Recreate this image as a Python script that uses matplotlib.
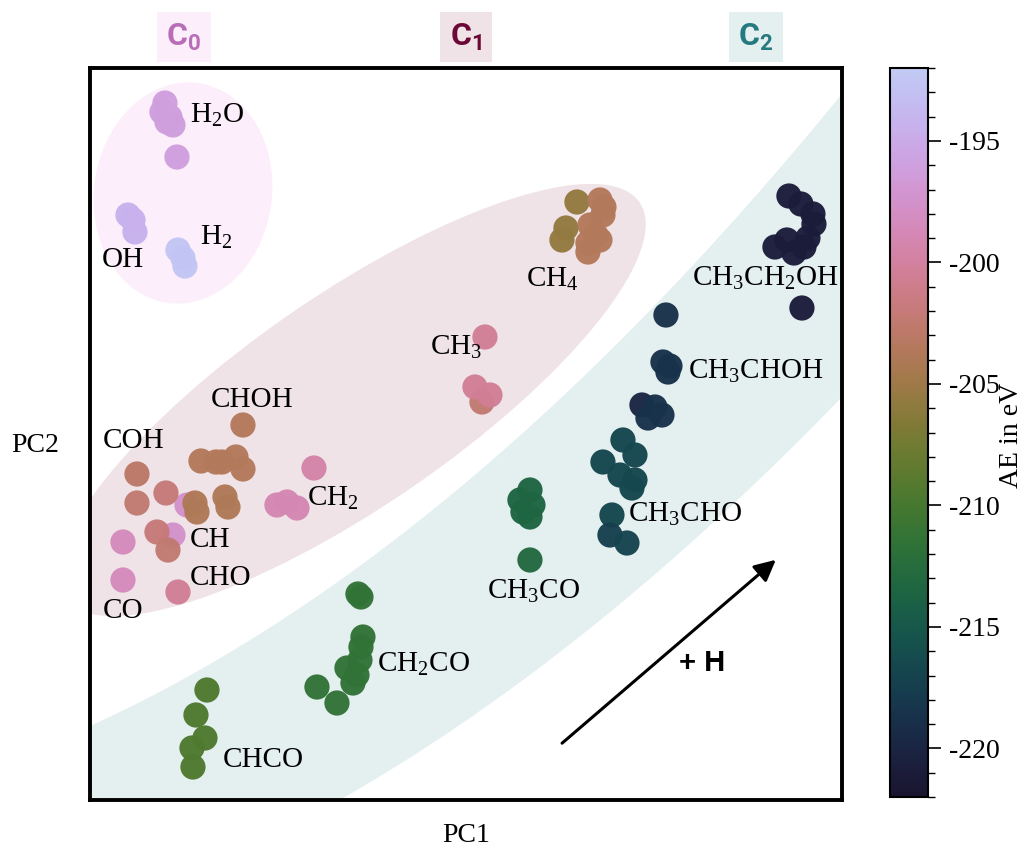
import numpy as np
import matplotlib.pyplot as plt
from matplotlib.colors import ListedColormap, Normalize
from matplotlib.patches import Ellipse
from matplotlib.ticker import MultipleLocator

plt.rcParams['font.family'] = ['Liberation Serif', 'DejaVu Serif']
plt.rcParams['mathtext.fontset'] = 'custom'
plt.rcParams['mathtext.rm'] = 'Liberation Serif'
plt.rcParams['mathtext.it'] = 'Liberation Serif:italic'
plt.rcParams['mathtext.sf'] = 'Roboto:bold'
plt.rcParams['axes.unicode_minus'] = False

# PCA projection (PC1, PC2) and adsorption energy (eV) of every structure
pc1 = [75, 72, 80, 83, 77, 87,                 # H2O
       38, 43, 45,                             # OH
       88, 93, 95,                             # H2
       97, 83,                                 # CH (behind)
       153, 111, 126, 132, 146, 153,           # CHOH
       47, 47, 76,                             # COH
       105, 107, 135, 138,
       187, 197, 207, 224,                     # CH2
       33, 67, 78,
       33, 88,                                 # CO, CHO
       487, 476, 472, 510, 514, 513, 500, 506, 510, 498, 498,   # CH4
       395, 392, 385, 400,                     # CH3
       699, 711, 723, 724, 718, 697, 685, 704, 714, 712,        # CH3CH2OH
       576, 573, 580, 578,                     # CH3CHOH
       552, 565, 572, 558,
       533, 545, 513, 530, 545, 542,           # CH3CHO
       522, 520, 537,
       440, 430, 443, 440, 433, 440,           # CH3CO
       268, 271, 273, 271, 270, 257, 267, 263, 227, 247,        # CH2CO
       117, 106, 115, 102, 103]                # CHCO
pc2 = [697, 688, 683, 675, 678, 643,
       585, 580, 568,
       550, 542, 534,
       295, 265,
       375, 339, 338, 338, 343, 331,
       326, 297, 307,
       297, 288, 303, 293,
       295, 298, 292, 332,
       258, 268, 250,
       220, 208,
       598, 572, 560, 600, 593, 585, 575, 565, 560, 557, 548,
       463, 398, 413, 405,
       604, 596, 586, 576, 562, 560, 553, 547, 553, 492,
       485, 438, 434, 428,
       395, 393, 385, 382,
       360, 345, 338, 325, 320, 312,
       285, 265, 257,
       310, 300, 295, 283, 288, 240,
       206, 203, 163, 153, 140, 132, 125, 117, 113, 97,
       110, 85, 62, 52, 33]
energy = [-196, -196, -196, -196, -196, -196,
          -194.5, -194.5, -194.5,
          -192.5, -192.5, -192.5,
          -197.5, -197.5,
          -203.5, -203.5, -203.5, -203.5, -203.5, -203.5,
          -203, -202.5, -202,
          -204, -204, -204, -204,
          -199, -199, -199, -199.5,
          -198.5, -202, -202.5,
          -198.5, -200.5,
          -205.5, -205.5, -205.5, -203.5, -203.5, -203.5, -203.5, -203.5, -203.5, -203.5, -203.5,
          -200.5, -202.5, -200.5, -200.5,
          -221, -221, -221, -221, -221, -221, -221, -221, -221, -221,
          -218.5, -218.5, -218.5, -218.5,
          -220, -218.5, -218.5, -218.5,
          -216.5, -216.5, -216.5, -216.5, -216.5, -216.5,
          -216.5, -217.5, -217,
          -213.5, -213.5, -213.5, -213.5, -213.5, -213,
          -211.5, -211.5, -211.5, -211.5, -211.5, -211.5, -211.5, -211.5, -211.5, -211.5,
          -209.5, -209.5, -209.5, -209.5, -209.5]

label_text = [r'H$_2$O', 'OH', r'H$_2$', 'CHOH', 'COH', 'CH', 'CHO', 'CO', r'CH$_2$',
              r'CH$_3$', r'CH$_4$', r'CH$_3$CH$_2$OH', r'CH$_3$CHOH', r'CH$_3$CHO',
              r'CH$_3$CO', r'CH$_2$CO', 'CHCO']
label_x = [100, 12, 110, 121, 13, 100, 100, 13, 217, 340, 436, 602, 598, 538, 397, 287, 133]
label_y = [677, 533, 555, 393, 352, 253, 215, 182, 294, 445, 513, 514, 421, 278, 201, 128, 33]

groups = [r'$\mathsf{C_0}$', r'$\mathsf{C_1}$', r'$\mathsf{C_2}$']
group_text_colors = ['#b86db8', '#6b0838', '#247a80']
group_bg_colors = ['#fdeefb', '#efe3e8', '#e4eff0']

cmap = ListedColormap(plt.cm.cubehelix(np.linspace(0.1, 0.8, 256)))
norm = Normalize(vmin=-222, vmax=-192)

fig = plt.figure(figsize=(10.27, 8.48), dpi=100)
ax = fig.add_axes([0.0876, 0.0566, 0.7322, 0.8632])
ax.set_xlim(0, 752)
ax.set_ylim(0, 732)

# background regions for the three carbon groups
ax.add_patch(Ellipse((93, 607), 178, 222, angle=-8, fc=group_bg_colors[0], ec='none', zorder=0))
ax.add_patch(Ellipse((262, 400), 698, 212, angle=34.5, fc=group_bg_colors[1], ec='none', zorder=0))
xb = np.linspace(0, 752, 300)
up = np.polyfit([0, 240, 307, 373, 440, 490, 610, 752], [73, 217, 263, 320, 370, 420, 540, 710], 2)
lo = np.polyfit([253, 323, 407, 473, 540, 607, 673, 752], [3, 43, 103, 153, 207, 263, 320, 407], 2)
ax.fill_between(xb, np.polyval(lo, xb), np.polyval(up, xb), color=group_bg_colors[2], lw=0, zorder=0)

sc = ax.scatter(pc1, pc2, c=energy, cmap=cmap, norm=norm, s=330, alpha=0.97,
                linewidths=0, zorder=2)

for t, x, y in zip(label_text, label_x, label_y):
    ax.text(x, y, t, fontsize=21, ha='left', va='baseline', zorder=3)

ax.annotate('', xy=(688, 242), xytext=(470, 55),
            arrowprops=dict(arrowstyle='-|>', color='black', lw=2.2, mutation_scale=32))
ax.text(612, 137, '+ H', fontsize=21, fontweight='bold', family='Liberation Sans',
        ha='center', va='center')

ax.set_xticks([])
ax.set_yticks([])
for sp in ax.spines.values():
    sp.set_linewidth(2.8)

fig.text(466 / 1027, 1 - 836 / 848, 'PC1', fontsize=20, ha='center', va='center')
fig.text(35 / 1027, 1 - 445 / 848, 'PC2', fontsize=20, ha='center', va='center')

for g, x, tc, bc in zip(groups, [184, 466, 756], group_text_colors, group_bg_colors):
    fig.text(x / 1027, 1 - 37 / 848, g, fontsize=23, color=tc, ha='center', va='center',
             bbox=dict(boxstyle='square,pad=0.3', fc=bc, ec='none'))

cax = fig.add_axes([0.8666, 0.0601, 0.037, 0.8597])
cb = fig.colorbar(sc, cax=cax)
cb.solids.set_alpha(1)
cb.set_ticks([-220, -215, -210, -205, -200, -195])
cb.ax.yaxis.set_minor_locator(MultipleLocator(1))
cb.ax.tick_params(which='major', length=9, width=1.2, labelsize=20, pad=6)
cb.ax.tick_params(which='minor', length=5, width=1)
cb.outline.set_linewidth(1.5)
fig.text(1012 / 1027, 1 - 435 / 848, 'AE in eV', fontsize=20, rotation=90,
         ha='center', va='center')

fig.savefig('out.png', dpi=100)
